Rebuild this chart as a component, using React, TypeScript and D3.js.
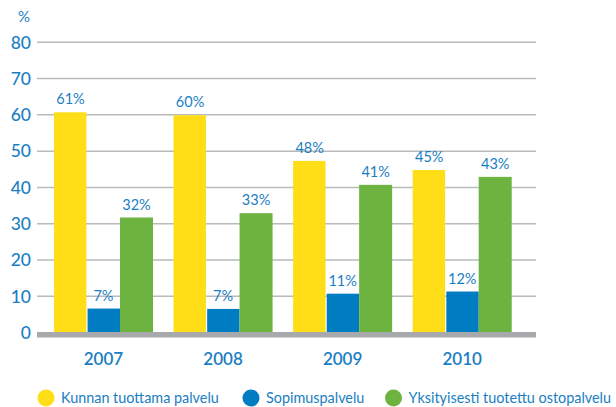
import React from "react";
import * as d3 from "d3";

const years = ["2007", "2008", "2009", "2010"];
const seriesNames = ["Kunnan tuottama palvelu", "Sopimuspalvelu", "Yksityisesti tuotettu ostopalvelu"];
const kunnan = [60.7, 59.9, 47.3, 44.8];
const sopimus = [6.6, 6.5, 10.7, 11.3];
const yksityinen = [31.7, 32.9, 40.7, 42.9];
const kunnanLabels = ["61%", "60%", "48%", "45%"];
const sopimusLabels = ["7%", "7%", "11%", "12%"];
const yksityinenLabels = ["32%", "33%", "41%", "43%"];
const yTicks = [0, 10, 20, 30, 40, 50, 60, 70, 80];
const colors = ["#FFDD17", "#007CC3", "#6DB33F"];

const W = 616;
const H = 407;
const TEXT = "#1A7EC2";
const FONT = "Lato, 'Open Sans', sans-serif";

export default function App() {
  const x = d3.scaleBand<string>().domain(years).range([43.7, 522]).paddingInner(0.172).paddingOuter(0.086);
  const xi = d3.scaleBand<number>().domain([0, 1, 2]).range([0, x.bandwidth()]).padding(0);
  const y = d3.scaleLinear().domain([0, 80]).range([332.5, 42.3]);
  const values = [kunnan, sopimus, yksityinen];
  const labels = [kunnanLabels, sopimusLabels, yksityinenLabels];
  const gridX0 = 37;
  const gridX1 = 536;
  const legendX = [46, 251, 393.5];

  return (
    <svg width={W} height={H} style={{ position: "absolute", left: 0, top: 0 }} fontFamily={FONT}>
      <rect width={W} height={H} fill="#fff" />
      {yTicks.filter((t) => t > 0).map((t) => (
        <line key={t} x1={gridX0} x2={gridX1} y1={y(t)} y2={y(t)} stroke="#B9BABC" strokeWidth={1.5} />
      ))}
      {yTicks.map((t) => (
        <text key={t} x={31} y={y(t)} dy="0.36em" textAnchor="end" fontSize={17.5} fill={TEXT} fontWeight={500}>
          {t}
        </text>
      ))}
      <text x={24} y={22} textAnchor="middle" fontSize={15} fill={TEXT}>%</text>
      {years.map((yr, i) => (
        <g key={yr} transform={`translate(${x(yr)},0)`}>
          {values.map((vals, s) => (
            <g key={s}>
              <rect
                x={xi(s)! + (s === 1 ? 0.6 : 0)}
                y={y(vals[i])}
                width={xi.bandwidth() - (s === 0 ? 0.6 : 0) - (s === 1 ? 0.6 : 0)}
                height={y(0) - y(vals[i])}
                fill={colors[s]}
              />
              <text
                x={xi(s)! + xi.bandwidth() / 2}
                y={y(vals[i]) - 8}
                textAnchor="middle"
                fontSize={14.5}
                fill={TEXT}
              >
                {labels[s][i]}
              </text>
            </g>
          ))}
          <text x={x.bandwidth() / 2} y={365} textAnchor="middle" fontSize={17} fontWeight={600} fill={TEXT}>
            {yr}
          </text>
        </g>
      ))}
      <rect x={gridX0} y={332} width={gridX1 - gridX0} height={5.5} fill="#A7A9AC" />
      {seriesNames.map((n, s) => (
        <g key={n}>
          <circle cx={legendX[s]} cy={398} r={8.5} fill={colors[s]} />
          <text x={legendX[s] + 15} y={403} fontSize={14.4} fill={TEXT}>
            {n}
          </text>
        </g>
      ))}
    </svg>
  );
}
